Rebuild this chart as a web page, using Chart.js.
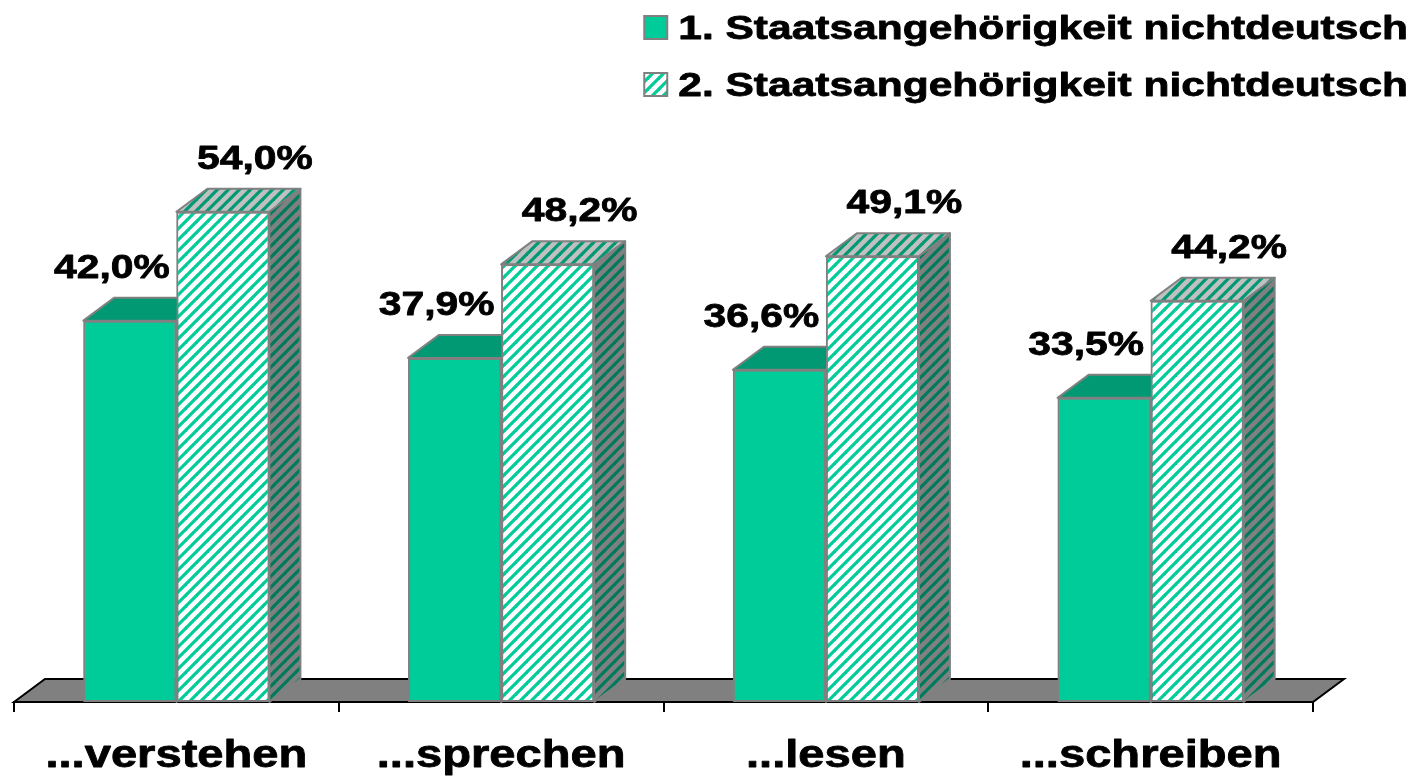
<!DOCTYPE html>
<html>
<head>
<meta charset="utf-8">
<script src="https://cdn.jsdelivr.net/npm/chart.js@4.4.1/dist/chart.umd.min.js"></script>
<style>
  html, body { margin: 0; padding: 0; background: #fff; }
  #wrap { width: 1418px; height: 778px; position: relative; }
</style>
</head>
<body>
<div id="wrap"><canvas id="chart"></canvas></div>
<script>
// --- data ---
const categories = ['...verstehen', '...sprechen', '...lesen', '...schreiben'];
const firstCitizenship = [42.0, 37.9, 36.6, 33.5];
const secondCitizenship = [54.0, 48.2, 49.1, 44.2];
const seriesNames = ['1. Staatsangehörigkeit nichtdeutsch', '2. Staatsangehörigkeit nichtdeutsch'];

const FONT = '"Liberation Sans", Arial, sans-serif';
const GREEN = '#00cc99';
const DEPTH_X = 31, DEPTH_Y = -23;

// striped fill like the old office "wide upward diagonal" pattern
function stripes(bg, fg) {
    const size = 11;
    const c = document.createElement('canvas');
    c.width = size; c.height = size;
    const g = c.getContext('2d');
    g.fillStyle = bg;
    g.fillRect(0, 0, size, size);
    g.strokeStyle = fg;
    g.lineWidth = 3.2;
    for (const o of [-size, 0, size]) {
        g.beginPath();
        g.moveTo(o - 1, size + 1);
        g.lineTo(o + size + 1, -1);
        g.stroke();
    }
    return g.createPattern(c, 'repeat');
}

const hatchFront = stripes('#ffffff', GREEN);
const hatchTop = stripes('#c0c0c0', '#009973');
const hatchSide = stripes('#808080', '#007a5c');

// faces for the fake 3d look, per dataset
const faces = [
    { top: '#009973', side: '#007a5c', labelShift: -18 },
    { top: hatchTop, side: hatchSide, labelShift: 32 }
];

function poly(ctx, pts, fill) {
    ctx.beginPath();
    ctx.moveTo(pts[0][0], pts[0][1]);
    for (let i = 1; i < pts.length; i++) ctx.lineTo(pts[i][0], pts[i][1]);
    ctx.closePath();
    ctx.fillStyle = fill;
    ctx.fill();
    ctx.stroke();
}

// the original text is a horizontally stretched, heavy Arial bold
function wideText(ctx, text, x, y, sx, align) {
    ctx.save();
    ctx.translate(x, y);
    ctx.scale(sx, 1);
    ctx.textAlign = align;
    ctx.strokeStyle = ctx.fillStyle;
    ctx.lineWidth = 0.8;
    ctx.lineJoin = 'round';
    ctx.fillText(text, 0, 0);
    ctx.strokeText(text, 0, 0);
    ctx.restore();
}

const box3d = {
    id: 'box3d',
    beforeDatasetsDraw(chart) {
        // grey floor
        const { ctx, chartArea: a } = chart;
        ctx.save();
        ctx.strokeStyle = '#000';
        ctx.lineWidth = 2;
        poly(ctx, [[a.left, a.bottom], [a.left + DEPTH_X, a.bottom + DEPTH_Y],
                   [a.right + DEPTH_X, a.bottom + DEPTH_Y], [a.right, a.bottom]], '#808080');
        ctx.restore();
    },
    afterDatasetsDraw(chart) {
        const { ctx } = chart;
        // chart.js paints dataset 0 last, so repaint in index order with the depth faces
        chart.data.datasets.forEach((ds, i) => {
            const f = faces[i];
            chart.getDatasetMeta(i).data.forEach(bar => {
                bar.draw(ctx);
                const p = bar.getProps(['x', 'y', 'base', 'width'], true);
                const l = p.x - p.width / 2, r = p.x + p.width / 2;
                ctx.save();
                ctx.strokeStyle = '#808080';
                ctx.lineWidth = 2;
                ctx.lineJoin = 'round';
                poly(ctx, [[l, p.y], [r, p.y], [r + DEPTH_X, p.y + DEPTH_Y], [l + DEPTH_X, p.y + DEPTH_Y]], f.top);
                poly(ctx, [[r, p.y], [r + DEPTH_X, p.y + DEPTH_Y], [r + DEPTH_X, p.base + DEPTH_Y], [r, p.base]], f.side);
                ctx.restore();
            });
        });

        // value labels
        ctx.save();
        ctx.fillStyle = '#000';
        ctx.font = 'bold 34px ' + FONT;
        ctx.textBaseline = 'alphabetic';
        chart.data.datasets.forEach((ds, i) => {
            chart.getDatasetMeta(i).data.forEach((bar, j) => {
                const p = bar.getProps(['x', 'y'], true);
                const txt = ds.data[j].toFixed(1).replace('.', ',') + '%';
                wideText(ctx, txt, p.x + faces[i].labelShift, p.y - 43, 1.2, 'center');
            });
        });
        ctx.restore();
    },
    afterDraw(chart) {
        const { ctx } = chart;
        const xs = chart.scales.x;
        ctx.save();
        ctx.fillStyle = '#000';
        ctx.textBaseline = 'alphabetic';

        // category labels under the axis
        ctx.font = 'bold 38px ' + FONT;
        chart.data.labels.forEach((lab, i) => {
            wideText(ctx, lab, xs.getPixelForValue(i), 767, 1.24, 'center');
        });

        // legend, right aligned at the top
        ctx.font = 'bold 34px ' + FONT;
        const rows = [39, 96];
        chart.data.datasets.forEach((ds, i) => {
            const w = ctx.measureText(ds.label).width * 1.25;
            const bx = 1408 - w - 34;
            ctx.fillStyle = ds.backgroundColor;
            ctx.fillRect(bx, rows[i] - 23, 23, 23);
            ctx.strokeStyle = '#808080';
            ctx.lineWidth = 2;
            ctx.strokeRect(bx, rows[i] - 23, 23, 23);
            ctx.fillStyle = '#000';
            wideText(ctx, ds.label, 1408, rows[i], 1.25, 'right');
        });
        ctx.restore();
    }
};

new Chart(document.getElementById('chart'), {
    type: 'bar',
    data: {
        labels: categories,
        datasets: [
            { label: seriesNames[0], data: firstCitizenship, backgroundColor: GREEN, borderColor: '#808080', borderWidth: 2 },
            { label: seriesNames[1], data: secondCitizenship, backgroundColor: hatchFront, borderColor: '#808080', borderWidth: 2 }
        ]
    },
    options: {
        responsive: true,
        maintainAspectRatio: false,
        animation: false,
        layout: { padding: { top: 120, left: 14, right: 105, bottom: 0 } },
        datasets: { bar: { categoryPercentage: 0.573, barPercentage: 1, borderSkipped: false } },
        plugins: { legend: { display: false }, tooltip: { enabled: false } },
        scales: {
            x: {
                grid: { display: true, drawOnChartArea: false, drawTicks: true, tickLength: 10, color: '#000', lineWidth: 2 },
                border: { display: true, color: '#000', width: 2 },
                ticks: { color: 'rgba(0,0,0,0)', padding: 20, font: { family: FONT, size: 38, weight: 'bold' }, maxRotation: 0 },
                afterFit: s => { s.height = 76; }
            },
            y: { display: false, min: 0, max: 64.1 }
        }
    },
    plugins: [box3d]
});
</script>
</body>
</html>
